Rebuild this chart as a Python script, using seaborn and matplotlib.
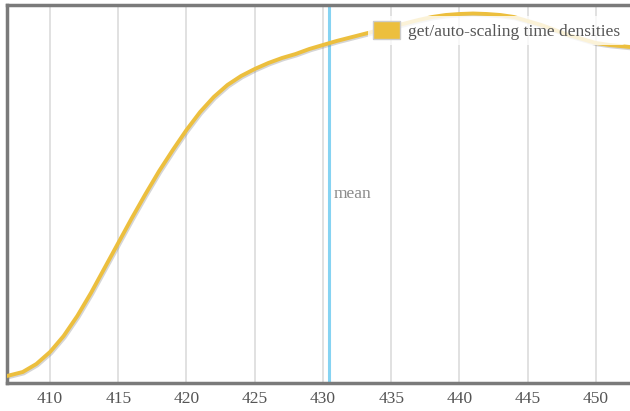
import matplotlib
matplotlib.use("Agg")
import matplotlib.pyplot as plt
import matplotlib.patheffects as pe
from matplotlib.patches import Patch
import seaborn as sns
import pandas as pd

# data
time_ms = [406.85, 408, 409, 410, 411, 412, 413, 414, 415, 416, 417, 418, 419, 420,
           421, 422, 423, 424, 425, 426, 427, 428, 429, 430, 431, 432, 433, 434, 435,
           436, 437, 438, 439, 440, 441, 442, 443, 444, 445, 446, 447, 448, 449, 450,
           451, 452.5]
density = [0.0007, 0.0011, 0.0019, 0.0031, 0.0047, 0.0067, 0.0090, 0.0115, 0.0140,
           0.0165, 0.0189, 0.0212, 0.0233, 0.0253, 0.0271, 0.0286, 0.0298, 0.0307,
           0.0314, 0.0320, 0.0325, 0.0329, 0.0334, 0.0338, 0.0342, 0.03455, 0.0349,
           0.03525, 0.0356, 0.03595, 0.0363, 0.0366, 0.0368, 0.0369, 0.03695, 0.0369,
           0.0368, 0.0366, 0.0362, 0.0358, 0.0353, 0.0348, 0.0344, 0.0340, 0.0338,
           0.0336]
mean_value = 430.45
xticks = [410, 415, 420, 425, 430, 435, 440, 445, 450]
series_label = "get/auto-scaling time densities"

df = pd.DataFrame({"time": time_ms, "density": density})

sns.set_style("white")
plt.rcParams["font.family"] = ["Liberation Serif", "DejaVu Serif"]

fig = plt.figure(figsize=(6.3, 4.11), dpi=100)
ax = fig.add_axes([7 / 630, 1 - 383 / 411, 1 - 7 / 630, (383 - 5) / 411])

for x in xticks:
    ax.axvline(x, color="#dcdcdc", lw=1.2, zorder=0)

sns.lineplot(data=df, x="time", y="density", ax=ax, color="#ecbf3e", lw=2.8,
             zorder=3, legend=False,
             path_effects=[pe.SimpleLineShadow(offset=(0.8, -1.0), shadow_color="#888888", alpha=0.35),
                           pe.Normal()])

ax.axvline(mean_value, color="#86d3f2", lw=2.2, zorder=2)
ax.text(mean_value + 0.35, 0.0189, "mean", color="#8a8a8a", fontsize=12.5, va="center", ha="left")

ax.set_xlim(406.85, 452.5)
ax.set_ylim(0, 0.0378)
ax.set_xticks(xticks)
ax.set_xticklabels([str(t) for t in xticks])
ax.set_yticks([])
ax.set_xlabel("")
ax.set_ylabel("")
ax.tick_params(axis="x", length=0, pad=6, labelsize=12.5, colors="#555555")

for side in ["left", "top", "bottom"]:
    ax.spines[side].set_color("#7a7a7a")
    ax.spines[side].set_linewidth(2.5)
ax.spines["right"].set_visible(False)

handles = [Patch(facecolor="#ecbf3e", edgecolor="#cccccc", lw=1.0)]
ax.legend(handles=handles, labels=[series_label], loc="upper right",
          bbox_to_anchor=(0.992, 0.972), borderaxespad=0, frameon=True, fontsize=12.5,
          handlelength=1.55, handleheight=1.2, handletextpad=0.45, borderpad=0.3,
          labelcolor="#555555", framealpha=0.8, edgecolor="none", facecolor="white")

fig.savefig("out.png", dpi=100)
